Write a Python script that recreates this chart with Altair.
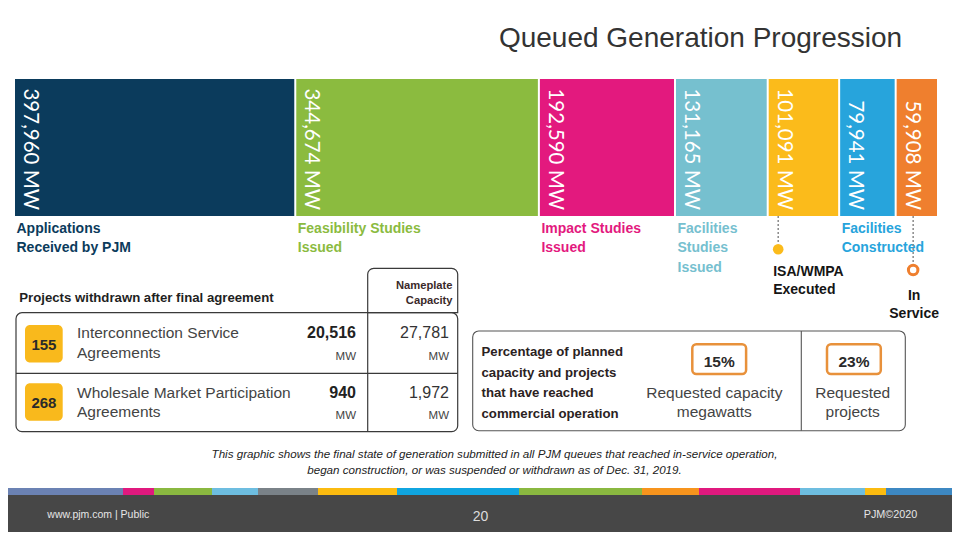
import altair as alt
import pandas as pd

# ---------------- data ----------------
title_text = "Queued Generation Progression"

stage_names = ["Applications Received by PJM", "Feasibility Studies Issued", "Impact Studies Issued",
               "Facilities Studies Issued", "ISA/WMPA Executed", "Facilities Constructed", "In Service"]
stage_mw = [397960, 344674, 192590, 131165, 101091, 79941, 59908]
stage_colors = ["#0b3b5c", "#8bbb3f", "#e3197e", "#76c0cf", "#fbbb1b", "#27a4dc", "#ef7f2e"]
stage_label_lines = [["Applications", "Received by PJM"], ["Feasibility Studies", "Issued"],
                     ["Impact Studies", "Issued"], ["Facilities", "Studies", "Issued"],
                     ["ISA/WMPA", "Executed"], ["Facilities", "Constructed"], ["In", "Service"]]
stage_label_kind = ["below", "below", "below", "below", "dot", "below", "ring"]

withdrawn_heading = "Projects withdrawn after final agreement"
nameplate_heading = ["Nameplate", "Capacity"]
withdrawn_types = [["Interconnection Service", "Agreements"], ["Wholesale Market Participation", "Agreements"]]
withdrawn_projects = [155, 268]
withdrawn_mw = [20516, 940]
withdrawn_nameplate = [27781, 1972]

commercial_heading = ["Percentage of planned", "capacity and projects", "that have reached", "commercial operation"]
commercial_pct = [15, 23]
commercial_pct_labels = [["Requested capacity", "megawatts"], ["Requested", "projects"]]

caption_lines = ["This graphic shows the final state of generation submitted in all PJM queues that reached in-service operation,",
                 "began construction, or was suspended or withdrawn as of Dec. 31, 2019."]
footer_left = "www.pjm.com | Public"
footer_page = "20"
footer_right = "PJM\u00a92020"
strip_stops = [0, 123, 154, 212, 258, 318, 397, 519, 642, 699, 800, 865, 886, 960]
strip_colors = ["#6b82b3", "#e0197e", "#8ab840", "#6dbde0", "#7a8288", "#fbbb10", "#10a5e0",
                "#8ab840", "#f7941d", "#e0197e", "#6dbde0", "#fbbb10", "#3d88c2"]

# ---------------- layout ----------------
W, H = 944, 524
SANS = "Liberation Sans, Arial, sans-serif"
LIGHT = "Lato, Liberation Sans, sans-serif"

PX = alt.Scale(domain=[8, 8 + W], range=[0, W], nice=False, zero=False)
PY = alt.Scale(domain=[8, 8 + H], range=[0, H], nice=False, zero=False)

total_mw = sum(stage_mw)
k = 924.0 / total_mw          # px per MW
MWX = alt.Scale(domain=[-7.0 / k, (W - 7.0) / k], range=[0, W], nice=False, zero=False)


def px_to_mw(p):
    return p / k


rows = []
cum = 0
for name, mw, col in zip(stage_names, stage_mw, stage_colors):
    rows.append({"stage": name, "mw": mw, "start": cum, "end": cum + mw, "color": col,
                 "top": 79, "bottom": 216, "labely": 210})
    cum += mw
bars_df = pd.DataFrame(rows)

bars = alt.Chart(bars_df).mark_rect(x2Offset=-2).encode(
    x=alt.X("start:Q", scale=MWX, axis=None), x2="end:Q",
    y=alt.Y("top:Q", scale=PY, axis=None), y2="bottom:Q",
    color=alt.Color("color:N", scale=None))

bar_labels = alt.Chart(bars_df).transform_calculate(
    lab="format(datum.mw, ',') + ' MW'",
    lx="datum.start + %f" % px_to_mw(9)
).mark_text(angle=90, align="right", baseline="alphabetic", font=LIGHT, fontSize=20.5, fontWeight=400,
            color="white").encode(
    x=alt.X("lx:Q", scale=MWX, axis=None),
    y=alt.Y("labely:Q", scale=PY, axis=None),
    text="lab:N")

# stage labels below bars
below_rows, marker_label_rows, ring_label_rows = [], [], []
dot_rows, ring_rows = [], []
for r, lines, kind in zip(rows, stage_label_lines, stage_label_kind):
    if kind == "below":
        for j, t in enumerate(lines):
            below_rows.append({"x": r["start"] + px_to_mw(1.5), "y": 233 + 19.25 * j, "t": t, "color": r["color"]})
    elif kind == "dot":
        for j, t in enumerate(lines):
            marker_label_rows.append({"x": r["start"] + px_to_mw(4.5), "y": 275.5 + 18 * j, "t": t})
        dot_rows.append({"x": r["start"] + px_to_mw(9.5), "y0": 216, "y1": 243, "yc": 249.3, "color": r["color"]})
    else:
        for j, t in enumerate(lines):
            ring_label_rows.append({"x": r["start"] + px_to_mw(17.5), "y": 299.5 + 18 * j, "t": t})
        ring_rows.append({"x": r["start"] + px_to_mw(16.5), "y0": 216, "y1": 263, "yc": 270, "color": r["color"]})

LBL = dict(baseline="alphabetic", font=SANS, fontSize=14, fontWeight="bold")
below_labels = alt.Chart(pd.DataFrame(below_rows)).mark_text(align="left", **LBL).encode(
    x=alt.X("x:Q", scale=MWX, axis=None), y=alt.Y("y:Q", scale=PY, axis=None),
    text="t:N", color=alt.Color("color:N", scale=None))

marker_labels = alt.Chart(pd.DataFrame(marker_label_rows)).mark_text(align="left", color="#151515", **LBL).encode(
    x=alt.X("x:Q", scale=MWX, axis=None), y=alt.Y("y:Q", scale=PY, axis=None), text="t:N")

ring_labels = alt.Chart(pd.DataFrame(ring_label_rows)).mark_text(align="center", color="#151515", **LBL).encode(
    x=alt.X("x:Q", scale=MWX, axis=None), y=alt.Y("y:Q", scale=PY, axis=None), text="t:N")

marker_df = pd.DataFrame(dot_rows + ring_rows)
leaders = alt.Chart(marker_df).mark_rule(strokeDash=[2, 2], color="#8a8a8a", strokeWidth=1.5).encode(
    x=alt.X("x:Q", scale=MWX, axis=None), y=alt.Y("y0:Q", scale=PY, axis=None), y2="y1:Q")
dots = alt.Chart(pd.DataFrame(dot_rows)).mark_point(shape="circle", filled=True, size=113, opacity=1).encode(
    x=alt.X("x:Q", scale=MWX, axis=None), y=alt.Y("yc:Q", scale=PY, axis=None),
    color=alt.Color("color:N", scale=None))
rings = alt.Chart(pd.DataFrame(ring_rows)).mark_point(shape="circle", size=90, strokeWidth=3, fill="white",
                                                      fillOpacity=1, opacity=1).encode(
    x=alt.X("x:Q", scale=MWX, axis=None), y=alt.Y("yc:Q", scale=PY, axis=None),
    stroke=alt.Stroke("color:N", scale=None))


# ---------------- helpers for px-positioned elements ----------------
def texts(rows_, **kw):
    df = pd.DataFrame(rows_, columns=["x", "y", "t"])
    return alt.Chart(df).mark_text(**kw).encode(
        x=alt.X("x:Q", scale=PX, axis=None), y=alt.Y("y:Q", scale=PY, axis=None), text="t:N")


def rects(rows_, **kw):
    df = pd.DataFrame(rows_, columns=["x", "x2", "y", "y2"])
    return alt.Chart(df).mark_rect(**kw).encode(
        x=alt.X("x:Q", scale=PX, axis=None), x2="x2:Q",
        y=alt.Y("y:Q", scale=PY, axis=None), y2="y2:Q")


def colored_rects(df, **kw):
    return alt.Chart(df).mark_rect(**kw).encode(
        x=alt.X("x:Q", scale=PX, axis=None), x2="x2:Q",
        y=alt.Y("y:Q", scale=PY, axis=None), y2="y2:Q",
        color=alt.Color("color:N", scale=None))


def rules(rows_, **kw):
    df = pd.DataFrame(rows_, columns=["x", "x2", "y", "y2"])
    return alt.Chart(df).mark_rule(**kw).encode(
        x=alt.X("x:Q", scale=PX, axis=None), x2="x2:Q",
        y=alt.Y("y:Q", scale=PY, axis=None), y2="y2:Q")


title = texts([(700.5, 47, title_text)], align="center", baseline="alphabetic", font=SANS,
              fontSize=28, color="#333333")

# ---------------- withdrawn table ----------------
table_box = rects([(16, 457.7, 312.7, 431.7)], cornerRadius=6, fillOpacity=0, stroke="#3a3a3a", strokeWidth=1.2)
header_box = rects([(367.7, 457.7, 268.3, 312.7)], cornerRadiusTopLeft=6, cornerRadiusTopRight=6,
                   fillOpacity=0, stroke="#3a3a3a", strokeWidth=1.2)
table_lines = rules([(16, 457.7, 373.3, 373.3), (367.7, 367.7, 312.7, 431.7)], color="#3a3a3a", strokeWidth=1.2)

row_base = [338.3, 397.7]
row_mw = [360, 419.3]
badge_top = [325, 383.3]
badges = rects([(25, 62.7, t, t + 37.5) for t in badge_top], cornerRadius=5, color="#f9b91c")
badge_text = texts([(43.9, b + 24.5, str(v)) for b, v in zip(badge_top, withdrawn_projects)],
                   align="center", baseline="alphabetic", font=SANS, fontSize=15, fontWeight="bold",
                   color="#2a2a2a")
withdrawn_head = texts([(19.3, 301.7, withdrawn_heading)], align="left", baseline="alphabetic", font=SANS,
                       fontSize=13.2, fontWeight="bold", color="#1f1f1f")
np_head = texts([(452.5, 288.5, nameplate_heading[0]), (452.5, 304, nameplate_heading[1])],
                align="right", baseline="alphabetic", font=SANS, fontSize=11.2, fontWeight="bold",
                color="#3a2a2a")
type_rows = []
for b, lines in zip(row_base, withdrawn_types):
    for j, t in enumerate(lines):
        type_rows.append((77, b + 19.5 * j, t))
type_text = texts(type_rows, align="left", baseline="alphabetic", font=SANS, fontSize=15.5, color="#444444")
mw_bold = texts([(356, b, f"{v:,}") for b, v in zip(row_base, withdrawn_mw)], align="right",
                baseline="alphabetic", font=SANS, fontSize=16, fontWeight="bold", color="#222222")
np_vals = texts([(449, b, f"{v:,}") for b, v in zip(row_base, withdrawn_nameplate)], align="right",
                baseline="alphabetic", font=SANS, fontSize=16, color="#333333")
mw_units = texts([(356, y, "MW") for y in row_mw] + [(449, y, "MW") for y in row_mw], align="right",
                 baseline="alphabetic", font=SANS, fontSize=11.5, color="#444444")

# ---------------- commercial operation box ----------------
comm_box = rects([(472.7, 905.3, 331, 430.7)], cornerRadius=6, fillOpacity=0, stroke="#555555", strokeWidth=1.1)
comm_div = rules([(801.3, 801.3, 331, 430.7)], color="#555555", strokeWidth=1.1)
comm_head = texts([(481.5, 356 + 20.5 * j, t) for j, t in enumerate(commercial_heading)], align="left",
                  baseline="alphabetic", font=SANS, fontSize=13.2, fontWeight="bold", color="#2b2222")
pct_x = [719.2, 853.9]
pct_boxes = rects([(x - 26.9, x + 26.9, 344.3, 374) for x in pct_x], cornerRadius=4, fillOpacity=0,
                  stroke="#e8913b", strokeWidth=2.5)
pct_text = texts([(x, 366.5, f"{v}%") for x, v in zip(pct_x, commercial_pct)], align="center",
                 baseline="alphabetic", font=SANS, fontSize=15.5, fontWeight="bold", color="#2a2a2a")
pl_rows = []
for x, lines in zip([714.3, 852.7], commercial_pct_labels):
    for j, t in enumerate(lines):
        pl_rows.append((x, 398.3 + 18.2 * j, t))
pct_labels = texts(pl_rows, align="center", baseline="alphabetic", font=SANS, fontSize=15.5, color="#444444")

# ---------------- caption & footer ----------------
caption = texts([(494.5, 458 + 16 * j, t) for j, t in enumerate(caption_lines)], align="center",
                baseline="alphabetic", font=SANS, fontSize=11.6, fontStyle="italic", color="#222222")
footer_bg = rects([(0, 960, 495, 540)], color="#474747")
strip_df = pd.DataFrame({"x": strip_stops[:-1], "x2": strip_stops[1:], "y": 488, "y2": 495,
                         "color": strip_colors})
strip = colored_rects(strip_df)
foot_l = texts([(47.3, 518.3, footer_left)], align="left", baseline="alphabetic", font=SANS, fontSize=10.5,
               color="#e6e6e6")
foot_c = texts([(480.5, 521, footer_page)], align="center", baseline="alphabetic", font=SANS, fontSize=14,
               color="#dddddd")
foot_r = texts([(917.3, 518.3, footer_right)], align="right", baseline="alphabetic", font=SANS, fontSize=10.8,
               color="#e6e6e6")

chart = alt.layer(
    footer_bg, strip, foot_l, foot_c, foot_r, caption,
    bars, bar_labels, below_labels, leaders, dots, rings, marker_labels, ring_labels,
    title,
    table_box, header_box, table_lines, badges, badge_text, withdrawn_head, np_head, type_text,
    mw_bold, np_vals, mw_units,
    comm_box, comm_div, comm_head, pct_boxes, pct_text, pct_labels,
).resolve_scale(x="independent").properties(
    width=W, height=H, padding=0, autosize=alt.AutoSizeParams(type="none"), background="white"
).configure_view(stroke=None)

chart.save("out.html", embed_options={"renderer": "svg", "actions": False})
